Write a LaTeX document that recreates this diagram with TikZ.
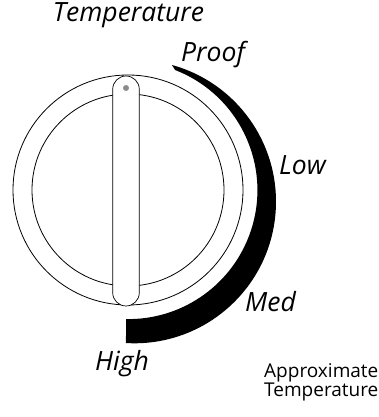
\documentclass[tikz,border=0pt]{standalone}
\usepackage{fontspec}
\setmainfont{Open Sans}
\usetikzlibrary{calc}
\begin{document}
\begin{tikzpicture}[x=1pt,y=1pt,
  lbl/.style={inner sep=0pt,font=\fontsize{26.5}{26.5}\selectfont\itshape},
  note/.style={inner sep=0pt,font=\fontsize{19}{16}\selectfont,align=left},
  ring/.style={draw=black,line width=0.8pt}]
\useasboundingbox (0,0) rectangle (379,417);
% dial
\coordinate (c) at (128,227);
\draw[ring] (c) circle[radius=115];
\draw[ring] (c) circle[radius=96];
% slot
\draw[line width=0.7pt,fill=white,rounded corners=13.3] (112.7,111) rectangle (139.3,341);
\node[circle,fill=black!45,inner sep=0pt,minimum size=6pt] (dot) at (126,329) {};
% band
\coordinate (ci) at (128.5,226.8);
\coordinate (co) at (134.3,215.4);
\fill[black] ($(ci)+(68.8:128.9)$) arc[start angle=68.8,end angle=-91,radius=128.9]
  -- ($(co)+(-93.4:141.7)$) arc[start angle=-93.4,end angle=74.6,radius=141.7] -- cycle;
% labels
\node[lbl,anchor=base] (title) at (128.5,395) {Temperature};
\node[lbl,anchor=base west] (proof) at (181,355) {Proof};
\node[lbl,anchor=base west] (low) at (279,242) {Low};
\node[lbl,anchor=base west] (med) at (245,105) {Med};
\node[lbl,anchor=base west] (high) at (95,46) {High};
\node[note,anchor=base west] (approx) at (264,20) {Approximate\\Temperature};
\end{tikzpicture}
\end{document}
